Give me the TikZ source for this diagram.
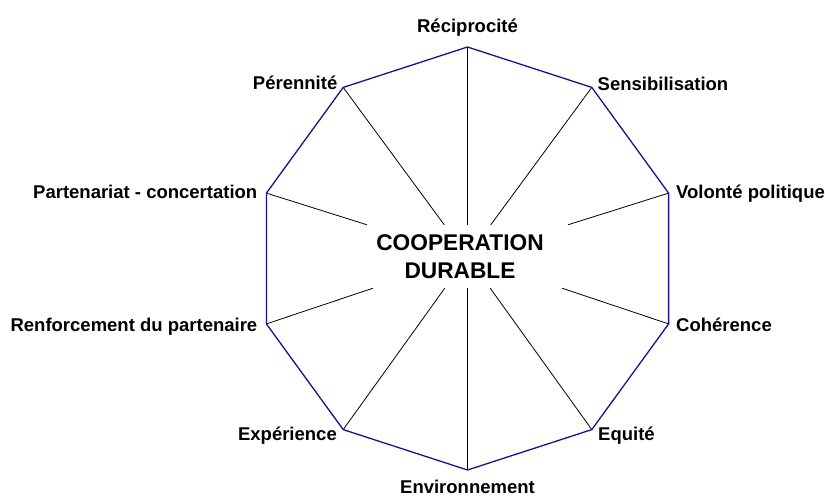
\documentclass[tikz,border=0pt]{standalone}
\usepackage{fontspec}
\setmainfont{Liberation Sans}
\definecolor{decagon}{RGB}{20,20,140}
\tikzset{
  rim/.style={draw=decagon, line width=1.3pt, line join=miter},
  spoke/.style={draw=black, line width=0.8pt},
  lbl/.style={inner sep=0pt, font=\bfseries\fontsize{18.5}{20}\selectfont},
  title/.style={inner sep=0pt, font=\bfseries\fontsize{22.7}{28}\selectfont},
}
\begin{document}
\begin{tikzpicture}[x=1pt,y=-1pt]
\useasboundingbox (0,0) rectangle (825,498);
% vertices
\coordinate (v0) at (467.5,47);
\coordinate (v1) at (591.8,87.4);
\coordinate (v2) at (668.6,193.1);
\coordinate (v3) at (668.6,323.9);
\coordinate (v4) at (591.8,429.6);
\coordinate (v5) at (467.5,470);
\coordinate (v6) at (343.2,429.6);
\coordinate (v7) at (266.4,323.9);
\coordinate (v8) at (266.4,193.1);
\coordinate (v9) at (343.2,87.4);
% hub (invisible box around the title)
\node[minimum width=240pt, minimum height=63pt, inner sep=0pt] (hub) at (467.5,256.5) {};
% spokes
\foreach \i in {0,...,9} { \draw[spoke] (v\i) -- (hub); }
% rim
\draw[rim] (v0) -- (v1) -- (v2) -- (v3) -- (v4) -- (v5) -- (v6) -- (v7) -- (v8) -- (v9) -- cycle;
% title
\node[title, anchor=base] (t1) at (460,250) {COOPERATION};
\node[title, anchor=base] (t2) at (460,278.3) {DURABLE};
% labels
\node[lbl, anchor=base] (l0) at (467.5,32.3) {Réciprocité};
\node[lbl, anchor=base west] (l1) at (597.5,90) {Sensibilisation};
\node[lbl, anchor=base west] (l2) at (676,198.3) {Volonté politique};
\node[lbl, anchor=base west] (l3) at (676,331.5) {Cohérence};
\node[lbl, anchor=base west] (l4) at (598,440.7) {Equité};
\node[lbl, anchor=base] (l5) at (467.5,493.3) {Environnement};
\node[lbl, anchor=base east] (l6) at (337,440.7) {Expérience};
\node[lbl, anchor=base east] (l7) at (257.5,331.5) {Renforcement du partenaire};
\node[lbl, anchor=base east] (l8) at (257.5,198.3) {Partenariat - concertation};
\node[lbl, anchor=base east] (l9) at (337.5,89.3) {Pérennité};
\end{tikzpicture}
\end{document}
